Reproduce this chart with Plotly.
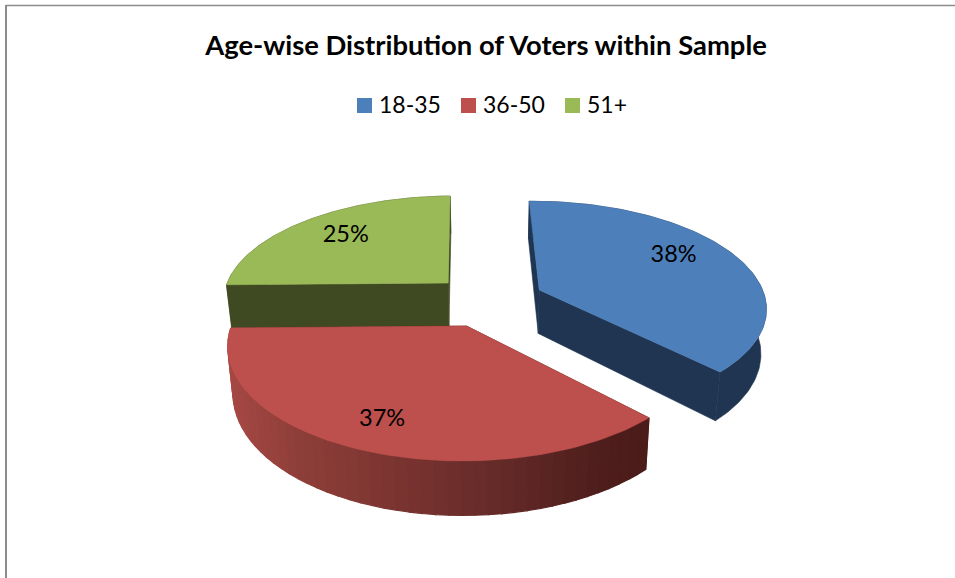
import math
import plotly.graph_objects as go

# Survey shares per age band, clockwise from the first slice angle
age_groups = ["18-35", "36-50", "51+"]
shares = [38, 37, 25]

TOP_COLORS = ["#4d7fbb", "#bd4f4c", "#9aba58"]
WALL_COLORS = ["#1f3552", "#4f1e1b", "#3f4a22"]

# Perspective camera for the tilted pie, in screen pixels
VANISH_X, VANISH_Y = 489.0, -384.0
SCALE_X, SCALE_Y = 221.0, 667.0
PERSPECTIVE = 0.15
THICKNESS = 43.0
BOTTOM_SHRINK = 0.02
FIRST_SLICE_ANGLE = -1.0

# Exploded offset of each slice on the pie's plane (right, towards viewer)
EXPLODE = [(0.225, 0.0687), (-0.095, 0.404), (-0.185, 0.0)]
LABEL_RADIUS = [0.75, 0.775, 0.75]
LABEL_ANGLE_NUDGE = [-7.5, 1.0, 2.5]


def project(px, pz, level=0.0):
    """Map a point on the pie plane at a height level (0 top, 1 base) to pixels."""
    s = 1.0 / (1.0 - PERSPECTIVE * pz)
    x = VANISH_X + SCALE_X * px * s * (1.0 - BOTTOM_SHRINK * level)
    y = VANISH_Y + SCALE_Y * s + THICKNESS * level * s
    return x, y


def rim(offset, a0, a1, level=0.0, steps=120):
    ox, oz = offset
    pts = []
    for i in range(steps + 1):
        a = math.radians(a0 + (a1 - a0) * i / steps)
        pts.append(project(ox + math.sin(a), oz - math.cos(a), level))
    return pts


def polygon(points, color, width=0.6):
    xs = [p[0] for p in points] + [points[0][0]]
    ys = [p[1] for p in points] + [points[0][1]]
    return go.Scatter(
        x=xs, y=ys, mode="lines", fill="toself", fillcolor=color,
        line=dict(color=color, width=width), hoverinfo="skip", showlegend=False,
    )


def mix(stops, t):
    for (t0, c0), (t1, c1) in zip(stops, stops[1:]):
        if t <= t1:
            f = (t - t0) / (t1 - t0)
            return "rgb({},{},{})".format(*[round(a + (b - a) * f) for a, b in zip(c0, c1)])
    return "rgb({},{},{})".format(*stops[-1][1])


# Light falls off from left to right along the curved front of the red slice
RED_WALL_SPAN = (225.0, 650.0)
RED_WALL_STOPS = [
    (0.0, (185, 78, 75)), (0.02, (165, 72, 68)), (0.18, (142, 62, 56)),
    (0.41, (122, 52, 48)), (0.65, (100, 42, 40)), (0.88, (78, 30, 28)),
    (1.0, (74, 28, 25)),
]

total = sum(shares)
angles = [FIRST_SLICE_ANGLE]
for v in shares:
    angles.append(angles[-1] + 360.0 * v / total)

fig = go.Figure()

# Back to front: green, blue, then red so that nearer slices overlap
for idx in [2, 0, 1]:
    offset = EXPLODE[idx]
    a0, a1 = angles[idx], angles[idx + 1]
    ox, oz = offset
    start_top, end_top = rim(offset, a0, a0, 0, 1)[0], rim(offset, a1, a1, 0, 1)[0]
    start_low, end_low = rim(offset, a0, a0, 1, 1)[0], rim(offset, a1, a1, 1, 1)[0]
    hub_top, hub_low = project(ox, oz, 0), project(ox, oz, 1)

    # Cut faces
    for edge_top, edge_low in ((start_top, start_low), (end_top, end_low)):
        fig.add_trace(polygon([hub_top, edge_top, edge_low, hub_low], WALL_COLORS[idx]))

    # Curved outer wall; the red slice is shaded band by band, left to right
    if idx == 1:
        bands = 48
        for b in range(bands):
            b0 = a1 - (a1 - a0) * b / bands
            b1 = a1 - (a1 - a0) * (b + 1) / bands
            strip = rim(offset, b0, b1, 0, 4) + rim(offset, b1, b0, 1, 4)
            mid_x = sum(p[0] for p in strip) / len(strip)
            t = (mid_x - RED_WALL_SPAN[0]) / (RED_WALL_SPAN[1] - RED_WALL_SPAN[0])
            color = mix(RED_WALL_STOPS, min(max(t, 0.0), 1.0))
            fig.add_trace(polygon(strip, color, width=1.2))
    else:
        fig.add_trace(polygon(rim(offset, a0, a1, 0) + rim(offset, a1, a0, 1), WALL_COLORS[idx]))

    # Top surface
    fig.add_trace(polygon([hub_top] + rim(offset, a0, a1, 0), TOP_COLORS[idx]))

# Percentage labels taken from the shares
LABEL_DROP = 3.0
label_x, label_y, label_text = [], [], []
for idx, v in enumerate(shares):
    a = math.radians((angles[idx] + angles[idx + 1]) / 2 + LABEL_ANGLE_NUDGE[idx])
    ox, oz = EXPLODE[idx]
    r = LABEL_RADIUS[idx]
    lx, ly = project(ox + r * math.sin(a), oz - r * math.cos(a))
    label_x.append(lx)
    label_y.append(ly + LABEL_DROP)
    label_text.append(f"{v}%")
fig.add_trace(go.Scatter(
    x=label_x, y=label_y, text=label_text, mode="text", textposition="middle center",
    textfont=dict(family="Lato", size=23.5, color="#000000"),
    hoverinfo="skip", showlegend=False,
))

# Legend row: one swatch and caption per age band
SWATCH_X = [364.5, 468.5, 572.5]
CAPTION_X = [379.0, 483.0, 587.0]
LEGEND_Y = 105.5
CAPTION_Y = 107.0
fig.add_trace(go.Scatter(
    x=SWATCH_X, y=[LEGEND_Y] * 3, mode="markers",
    marker=dict(symbol="square", size=15, color=TOP_COLORS, line=dict(width=0)),
    hoverinfo="skip", showlegend=False,
))
fig.add_trace(go.Scatter(
    x=CAPTION_X, y=[CAPTION_Y] * 3, mode="text", text=age_groups,
    textposition="middle right",
    textfont=dict(family="Lato", size=23, color="#000000"),
    hoverinfo="skip", showlegend=False,
))

fig.update_layout(
    width=955, height=578,
    margin=dict(l=0, r=0, t=0, b=0),
    paper_bgcolor="#ffffff", plot_bgcolor="#ffffff",
    xaxis=dict(range=[0, 955], visible=False, fixedrange=True),
    yaxis=dict(range=[578, 0], visible=False, fixedrange=True),
    title=dict(
        text="<b>Age-wise Distribution of Voters within Sample</b>",
        font=dict(family="Lato", size=27.4, color="#000000"),
        x=486 / 955, xanchor="center", y=1 - 45 / 578, yanchor="middle",
    ),
    shapes=[
        dict(type="line", xref="x", yref="y", x0=6, x1=6, y0=5, y1=578,
             line=dict(color="#8c8c8c", width=2)),
        dict(type="line", xref="x", yref="y", x0=6, x1=955, y0=5.5, y1=5.5,
             line=dict(color="#8c8c8c", width=1.5)),
    ],
)

fig.write_html("out.html", config=dict(displayModeBar=False))
